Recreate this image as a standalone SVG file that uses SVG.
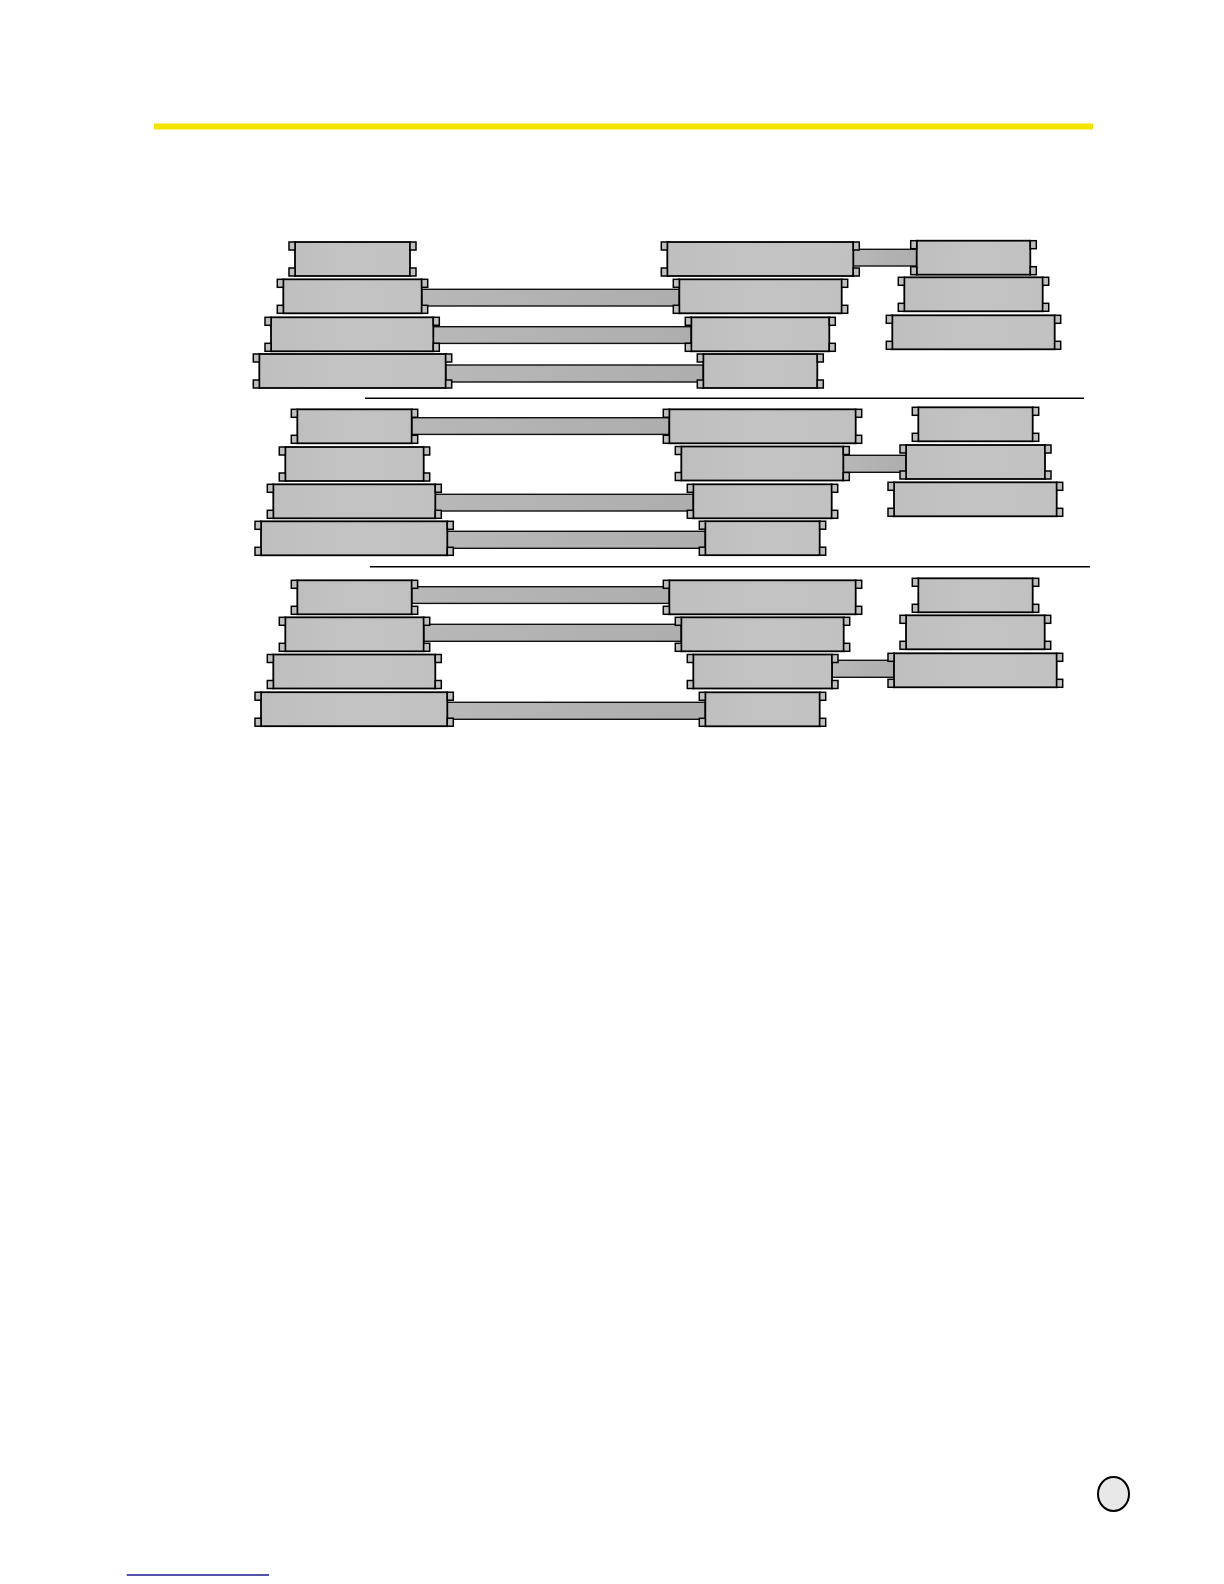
<svg xmlns="http://www.w3.org/2000/svg" width="1224" height="1584" viewBox="0 0 1224 1584">
<defs>
<linearGradient id="cg" x1="0" y1="0" x2="1" y2="0">
<stop offset="0" stop-color="#b8b8b8"/>
<stop offset="0.5" stop-color="#b2b2b2"/>
<stop offset="1" stop-color="#aeaeae"/>
</linearGradient>
<linearGradient id="bg" x1="0" y1="0" x2="1" y2="0">
<stop offset="0" stop-color="#bfbfbf"/>
<stop offset="0.5" stop-color="#c3c3c3"/>
<stop offset="1" stop-color="#c1c1c1"/>
</linearGradient>
</defs>
<style>
.body{fill:url(#bg);stroke:#000;stroke-width:1.8}
.ear{fill:#c0c0c0;stroke:#000;stroke-width:1.5}
.cab{fill:url(#cg);stroke:#111;stroke-width:1.4}
.plug{stroke:#8a8a8a;stroke-width:1;fill:none}
.div{stroke:#000;stroke-width:1.4}
</style>
<rect x="154" y="123.5" width="939" height="6" fill="#f2e400"/>
<line class="div" x1="365" y1="398.3" x2="1084" y2="398.3"/>
<line class="div" x1="370" y1="566.7" x2="1090" y2="566.7"/>
<g id="connectors">
<rect class="cab" x="421.7" y="289.3" width="257.6" height="16.7"/>
<rect class="cab" x="433.3" y="326.7" width="258" height="16.7"/>
<rect class="cab" x="445.7" y="365" width="257.6" height="17"/>
<rect class="cab" x="853.3" y="249.3" width="63.4" height="16.7"/>
<rect class="cab" x="411.7" y="417.7" width="257.6" height="16.7"/>
<rect class="cab" x="435.3" y="494.3" width="258" height="16.7"/>
<rect class="cab" x="447.3" y="531.3" width="258" height="17"/>
<rect class="cab" x="843.3" y="455.3" width="62.7" height="17"/>
<rect class="cab" x="411.7" y="586.7" width="257.6" height="16.7"/>
<rect class="cab" x="423.7" y="624.3" width="257.6" height="17"/>
<rect class="cab" x="447.3" y="702.3" width="258" height="17"/>
<rect class="cab" x="832" y="660.3" width="62" height="17"/>
<line class="plug" x1="682" y1="290" x2="682" y2="305"/>
<line class="plug" x1="685" y1="290" x2="685" y2="305"/>
<line class="plug" x1="694.5" y1="327" x2="694.5" y2="343"/>
<line class="plug" x1="431" y1="327" x2="431" y2="343"/>
<line class="plug" x1="672" y1="418" x2="672" y2="434"/>
<line class="plug" x1="708" y1="532" x2="708" y2="548"/>
<line class="plug" x1="909" y1="456" x2="909" y2="472"/>
<line class="plug" x1="672" y1="587" x2="672" y2="603"/>
<line class="plug" x1="830" y1="661" x2="830" y2="677"/>
<line class="plug" x1="708" y1="703" x2="708" y2="719"/>
</g>
<g id="s1-L1"><rect class="body" x="295" y="242" width="115" height="34"/><rect class="ear" x="289" y="242" width="6" height="8"/><rect class="ear" x="289" y="268" width="6" height="8"/><rect class="ear" x="410" y="242" width="6" height="8"/><rect class="ear" x="410" y="268" width="6" height="8"/></g>
<g id="s1-L2"><rect class="body" x="283.3" y="279.3" width="138.4" height="34"/><rect class="ear" x="277.3" y="279.3" width="6" height="8"/><rect class="ear" x="277.3" y="305.3" width="6" height="8"/><rect class="ear" x="421.7" y="279.3" width="6" height="8"/><rect class="ear" x="421.7" y="305.3" width="6" height="8"/></g>
<g id="s1-L3"><rect class="body" x="271" y="317.3" width="162.3" height="34"/><rect class="ear" x="265" y="317.3" width="6" height="8"/><rect class="ear" x="265" y="343.3" width="6" height="8"/><rect class="ear" x="433.3" y="317.3" width="6" height="8"/><rect class="ear" x="433.3" y="343.3" width="6" height="8"/></g>
<g id="s1-L4"><rect class="body" x="259.3" y="354" width="186.4" height="34"/><rect class="ear" x="253.3" y="354" width="6" height="8"/><rect class="ear" x="253.3" y="380" width="6" height="8"/><rect class="ear" x="445.7" y="354" width="6" height="8"/><rect class="ear" x="445.7" y="380" width="6" height="8"/></g>
<g id="s1-M1"><rect class="body" x="667.3" y="242" width="186" height="34"/><rect class="ear" x="661.3" y="242" width="6" height="8"/><rect class="ear" x="661.3" y="268" width="6" height="8"/><rect class="ear" x="853.3" y="242" width="6" height="8"/><rect class="ear" x="853.3" y="268" width="6" height="8"/></g>
<g id="s1-M2"><rect class="body" x="679.3" y="279.3" width="162.4" height="34"/><rect class="ear" x="673.3" y="279.3" width="6" height="8"/><rect class="ear" x="673.3" y="305.3" width="6" height="8"/><rect class="ear" x="841.7" y="279.3" width="6" height="8"/><rect class="ear" x="841.7" y="305.3" width="6" height="8"/></g>
<g id="s1-M3"><rect class="body" x="691.3" y="317.3" width="138" height="34"/><rect class="ear" x="685.3" y="317.3" width="6" height="8"/><rect class="ear" x="685.3" y="343.3" width="6" height="8"/><rect class="ear" x="829.3" y="317.3" width="6" height="8"/><rect class="ear" x="829.3" y="343.3" width="6" height="8"/></g>
<g id="s1-M4"><rect class="body" x="703.3" y="354" width="114" height="34"/><rect class="ear" x="697.3" y="354" width="6" height="8"/><rect class="ear" x="697.3" y="380" width="6" height="8"/><rect class="ear" x="817.3" y="354" width="6" height="8"/><rect class="ear" x="817.3" y="380" width="6" height="8"/></g>
<g id="s1-R1"><rect class="body" x="916.7" y="240.7" width="113.6" height="34"/><rect class="ear" x="910.7" y="240.7" width="6" height="8"/><rect class="ear" x="910.7" y="266.7" width="6" height="8"/><rect class="ear" x="1030.3" y="240.7" width="6" height="8"/><rect class="ear" x="1030.3" y="266.7" width="6" height="8"/></g>
<g id="s1-R2"><rect class="body" x="904.3" y="277.3" width="138.4" height="34"/><rect class="ear" x="898.3" y="277.3" width="6" height="8"/><rect class="ear" x="898.3" y="303.3" width="6" height="8"/><rect class="ear" x="1042.7" y="277.3" width="6" height="8"/><rect class="ear" x="1042.7" y="303.3" width="6" height="8"/></g>
<g id="s1-R3"><rect class="body" x="892.3" y="315.3" width="162.4" height="34"/><rect class="ear" x="886.3" y="315.3" width="6" height="8"/><rect class="ear" x="886.3" y="341.3" width="6" height="8"/><rect class="ear" x="1054.7" y="315.3" width="6" height="8"/><rect class="ear" x="1054.7" y="341.3" width="6" height="8"/></g>
<g id="s2-L1"><rect class="body" x="297.3" y="409.3" width="114.4" height="34"/><rect class="ear" x="291.3" y="409.3" width="6" height="8"/><rect class="ear" x="291.3" y="435.3" width="6" height="8"/><rect class="ear" x="411.7" y="409.3" width="6" height="8"/><rect class="ear" x="411.7" y="435.3" width="6" height="8"/></g>
<g id="s2-L2"><rect class="body" x="285.3" y="447" width="138.4" height="34"/><rect class="ear" x="279.3" y="447" width="6" height="8"/><rect class="ear" x="279.3" y="473" width="6" height="8"/><rect class="ear" x="423.7" y="447" width="6" height="8"/><rect class="ear" x="423.7" y="473" width="6" height="8"/></g>
<g id="s2-L3"><rect class="body" x="273.3" y="484.3" width="162" height="34"/><rect class="ear" x="267.3" y="484.3" width="6" height="8"/><rect class="ear" x="267.3" y="510.3" width="6" height="8"/><rect class="ear" x="435.3" y="484.3" width="6" height="8"/><rect class="ear" x="435.3" y="510.3" width="6" height="8"/></g>
<g id="s2-L4"><rect class="body" x="261" y="521.3" width="186.3" height="34"/><rect class="ear" x="255" y="521.3" width="6" height="8"/><rect class="ear" x="255" y="547.3" width="6" height="8"/><rect class="ear" x="447.3" y="521.3" width="6" height="8"/><rect class="ear" x="447.3" y="547.3" width="6" height="8"/></g>
<g id="s2-M1"><rect class="body" x="669.3" y="409.3" width="186.4" height="34"/><rect class="ear" x="663.3" y="409.3" width="6" height="8"/><rect class="ear" x="663.3" y="435.3" width="6" height="8"/><rect class="ear" x="855.7" y="409.3" width="6" height="8"/><rect class="ear" x="855.7" y="435.3" width="6" height="8"/></g>
<g id="s2-M2"><rect class="body" x="681.3" y="446.5" width="162" height="34"/><rect class="ear" x="675.3" y="446.5" width="6" height="8"/><rect class="ear" x="675.3" y="472.5" width="6" height="8"/><rect class="ear" x="843.3" y="446.5" width="6" height="8"/><rect class="ear" x="843.3" y="472.5" width="6" height="8"/></g>
<g id="s2-M3"><rect class="body" x="693.3" y="484.3" width="138.4" height="34"/><rect class="ear" x="687.3" y="484.3" width="6" height="8"/><rect class="ear" x="687.3" y="510.3" width="6" height="8"/><rect class="ear" x="831.7" y="484.3" width="6" height="8"/><rect class="ear" x="831.7" y="510.3" width="6" height="8"/></g>
<g id="s2-M4"><rect class="body" x="705.3" y="521.2" width="114.4" height="34"/><rect class="ear" x="699.3" y="521.2" width="6" height="8"/><rect class="ear" x="699.3" y="547.2" width="6" height="8"/><rect class="ear" x="819.7" y="521.2" width="6" height="8"/><rect class="ear" x="819.7" y="547.2" width="6" height="8"/></g>
<g id="s2-R1"><rect class="body" x="918.3" y="407.3" width="114.4" height="34"/><rect class="ear" x="912.3" y="407.3" width="6" height="8"/><rect class="ear" x="912.3" y="433.3" width="6" height="8"/><rect class="ear" x="1032.7" y="407.3" width="6" height="8"/><rect class="ear" x="1032.7" y="433.3" width="6" height="8"/></g>
<g id="s2-R2"><rect class="body" x="906" y="445" width="139" height="34"/><rect class="ear" x="900" y="445" width="6" height="8"/><rect class="ear" x="900" y="471" width="6" height="8"/><rect class="ear" x="1045" y="445" width="6" height="8"/><rect class="ear" x="1045" y="471" width="6" height="8"/></g>
<g id="s2-R3"><rect class="body" x="894" y="482.3" width="162.7" height="34"/><rect class="ear" x="888" y="482.3" width="6" height="8"/><rect class="ear" x="888" y="508.3" width="6" height="8"/><rect class="ear" x="1056.7" y="482.3" width="6" height="8"/><rect class="ear" x="1056.7" y="508.3" width="6" height="8"/></g>
<g id="s3-L1"><rect class="body" x="297.3" y="580.3" width="114.4" height="34"/><rect class="ear" x="291.3" y="580.3" width="6" height="8"/><rect class="ear" x="291.3" y="606.3" width="6" height="8"/><rect class="ear" x="411.7" y="580.3" width="6" height="8"/><rect class="ear" x="411.7" y="606.3" width="6" height="8"/></g>
<g id="s3-L2"><rect class="body" x="285.3" y="617.3" width="138.4" height="34"/><rect class="ear" x="279.3" y="617.3" width="6" height="8"/><rect class="ear" x="279.3" y="643.3" width="6" height="8"/><rect class="ear" x="423.7" y="617.3" width="6" height="8"/><rect class="ear" x="423.7" y="643.3" width="6" height="8"/></g>
<g id="s3-L3"><rect class="body" x="273.3" y="654.5" width="162" height="34"/><rect class="ear" x="267.3" y="654.5" width="6" height="8"/><rect class="ear" x="267.3" y="680.5" width="6" height="8"/><rect class="ear" x="435.3" y="654.5" width="6" height="8"/><rect class="ear" x="435.3" y="680.5" width="6" height="8"/></g>
<g id="s3-L4"><rect class="body" x="261" y="692.2" width="186.3" height="34"/><rect class="ear" x="255" y="692.2" width="6" height="8"/><rect class="ear" x="255" y="718.2" width="6" height="8"/><rect class="ear" x="447.3" y="692.2" width="6" height="8"/><rect class="ear" x="447.3" y="718.2" width="6" height="8"/></g>
<g id="s3-M1"><rect class="body" x="669.3" y="580.3" width="186.4" height="34"/><rect class="ear" x="663.3" y="580.3" width="6" height="8"/><rect class="ear" x="663.3" y="606.3" width="6" height="8"/><rect class="ear" x="855.7" y="580.3" width="6" height="8"/><rect class="ear" x="855.7" y="606.3" width="6" height="8"/></g>
<g id="s3-M2"><rect class="body" x="681.3" y="617.3" width="162.4" height="34"/><rect class="ear" x="675.3" y="617.3" width="6" height="8"/><rect class="ear" x="675.3" y="643.3" width="6" height="8"/><rect class="ear" x="843.7" y="617.3" width="6" height="8"/><rect class="ear" x="843.7" y="643.3" width="6" height="8"/></g>
<g id="s3-M3"><rect class="body" x="693.3" y="654.5" width="138.7" height="34"/><rect class="ear" x="687.3" y="654.5" width="6" height="8"/><rect class="ear" x="687.3" y="680.5" width="6" height="8"/><rect class="ear" x="832" y="654.5" width="6" height="8"/><rect class="ear" x="832" y="680.5" width="6" height="8"/></g>
<g id="s3-M4"><rect class="body" x="705.3" y="692.3" width="114.4" height="34"/><rect class="ear" x="699.3" y="692.3" width="6" height="8"/><rect class="ear" x="699.3" y="718.3" width="6" height="8"/><rect class="ear" x="819.7" y="692.3" width="6" height="8"/><rect class="ear" x="819.7" y="718.3" width="6" height="8"/></g>
<g id="s3-R1"><rect class="body" x="918.3" y="578.3" width="114.4" height="34"/><rect class="ear" x="912.3" y="578.3" width="6" height="8"/><rect class="ear" x="912.3" y="604.3" width="6" height="8"/><rect class="ear" x="1032.7" y="578.3" width="6" height="8"/><rect class="ear" x="1032.7" y="604.3" width="6" height="8"/></g>
<g id="s3-R2"><rect class="body" x="906" y="615.3" width="138.7" height="34"/><rect class="ear" x="900" y="615.3" width="6" height="8"/><rect class="ear" x="900" y="641.3" width="6" height="8"/><rect class="ear" x="1044.7" y="615.3" width="6" height="8"/><rect class="ear" x="1044.7" y="641.3" width="6" height="8"/></g>
<g id="s3-R3"><rect class="body" x="894" y="653.3" width="162.7" height="34"/><rect class="ear" x="888" y="653.3" width="6" height="8"/><rect class="ear" x="888" y="679.3" width="6" height="8"/><rect class="ear" x="1056.7" y="653.3" width="6" height="8"/><rect class="ear" x="1056.7" y="679.3" width="6" height="8"/></g>
<ellipse cx="1113.5" cy="1494" rx="15.5" ry="17" fill="#e8e8e8" stroke="#000" stroke-width="2"/>
<line x1="126.7" y1="1575" x2="269" y2="1575" stroke="#1a1a8c" stroke-width="1.3"/>
</svg>
